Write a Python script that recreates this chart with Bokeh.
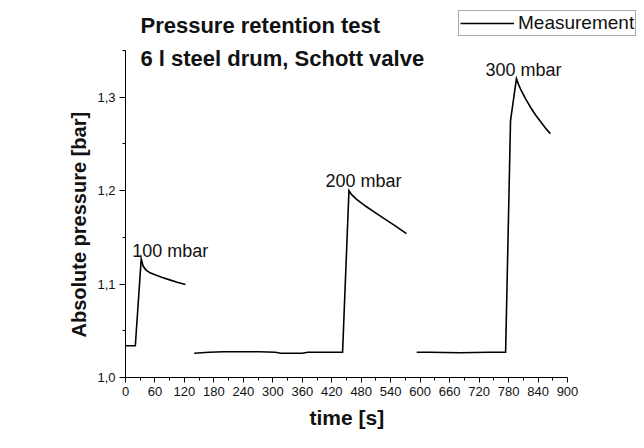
from bokeh.plotting import figure
from bokeh.models import (Range1d, FixedTicker, CustomJSTickFormatter, Label,
                          Legend, LegendItem, ColumnDataSource, Title)
from bokeh.embed import file_html
from bokeh.resources import INLINE
from bokeh.core.properties import value

# ---------------- data ----------------
title_lines = ["Pressure retention test", "6 l steel drum, Schott valve"]
x_label = "time [s]"
y_label = "Absolute pressure [bar]"
series_name = "Measurement"

x_ticks = list(range(0, 901, 60))
x_minor = list(range(30, 900, 60))
y_ticks = [1.0, 1.1, 1.2, 1.3]
y_minor = [1.05, 1.15, 1.25, 1.35]

# test 1: 100 mbar
t1 = [0, 20, 32, 36, 42, 50, 60, 75, 90, 105, 122]
p1 = [1.034, 1.034, 1.127, 1.119, 1.115, 1.112, 1.110, 1.107, 1.1045, 1.102, 1.0995]

# test 2: 200 mbar
t2 = [140, 170, 200, 240, 272, 305, 316, 360, 371, 400, 442,
      455, 460, 470, 490, 510, 530, 550, 572]
p2 = [1.026, 1.027, 1.0275, 1.0275, 1.0275, 1.027, 1.026, 1.026, 1.027, 1.027, 1.027,
      1.200, 1.196, 1.191, 1.183, 1.176, 1.169, 1.162, 1.154]

# test 3: 300 mbar
t3 = [593, 620, 680, 740, 774, 784, 796, 800, 805, 815, 825, 835, 845, 855, 865]
p3 = [1.027, 1.027, 1.0265, 1.027, 1.027, 1.275, 1.320, 1.314, 1.308,
      1.298, 1.289, 1.281, 1.274, 1.267, 1.261]

ann_text = ["100 mbar", "200 mbar", "300 mbar"]
ann_t = [13.6, 407, 733]
ann_p = [1.135, 1.210, 1.3287]

title_t = [30.5, 30.5]
title_p = [1.3770, 1.3413]

FONT = "Liberation Sans"

# ---------------- figure ----------------
W, H = 636, 440
B_LEFT, B_RIGHT, B_TOP, B_BOTTOM = 125, 0, 4, 63
X_LO, X_HI, X_PX = 0, 900, 442      # drawn x-axis and its pixel length
Y_LO, Y_HI, Y_PX = 1.0, 1.35, 327   # drawn y-axis and its pixel length
frame_w = W - B_LEFT - B_RIGHT
frame_h = H - B_TOP - B_BOTTOM
x_end = X_LO + frame_w * (X_HI - X_LO) / X_PX
y_end = Y_LO + frame_h * (Y_HI - Y_LO) / Y_PX

p = figure(width=W, height=H, output_backend="svg", toolbar_location=None,
           x_range=Range1d(X_LO, x_end), y_range=Range1d(Y_LO, y_end),
           min_border_left=B_LEFT, min_border_right=B_RIGHT,
           min_border_top=B_TOP, min_border_bottom=B_BOTTOM)
p.grid.visible = False
p.outline_line_color = None
p.background_fill_color = "white"
p.border_fill_color = "white"

r = p.multi_line(xs=[t1, t2, t3], ys=[p1, p2, p3], line_color="black",
                 line_width=1.6, line_join="miter")

src = ColumnDataSource(dict(x=ann_t, y=ann_p, text=ann_text))
p.text(x="x", y="y", text="text", source=src, text_font=value(FONT),
       text_font_size="18px", text_color="#111111", text_baseline="alphabetic",
       text_align="left")

for tx, ty, tt in zip(title_t, title_p, title_lines):
    p.add_layout(Label(x=tx, y=ty, text=tt, text_font=FONT, text_font_style="bold",
                       text_font_size="22px", text_color="#111111",
                       text_baseline="alphabetic", text_align="left"))

# axes
for ax in (p.xaxis[0], p.yaxis[0]):
    ax.axis_line_color = "black"
    ax.axis_line_width = 1
    ax.major_tick_line_color = "black"
    ax.minor_tick_line_color = "black"
    ax.major_tick_in = 0
    ax.major_tick_out = 5
    ax.minor_tick_in = 0
    ax.minor_tick_out = 3
    ax.major_label_text_font = FONT
    ax.major_label_text_font_size = "13px"
    ax.major_label_text_color = "#111111"
    ax.major_label_standoff = 4

p.xaxis.ticker = FixedTicker(ticks=x_ticks, minor_ticks=x_minor)
p.yaxis.ticker = FixedTicker(ticks=y_ticks, minor_ticks=y_minor)
p.xaxis.bounds = (X_LO, X_HI)
p.yaxis.bounds = (Y_LO, Y_HI)
p.yaxis.formatter = CustomJSTickFormatter(code="return tick.toFixed(1).replace('.', ',');")
p.yaxis.major_tick_out = 6

# axis titles, positioned along the drawn axis extent
p.add_layout(Title(text=x_label, align="left", offset=184, standoff=11,
                   text_font=FONT, text_font_style="bold", text_font_size="21px",
                   text_color="#111111"), "below")
p.add_layout(Title(text=y_label, align="left", offset=40, standoff=10,
                   text_font=FONT, text_font_style="bold", text_font_size="20px",
                   text_color="#111111"), "left")

legend = Legend(items=[LegendItem(label=series_name, renderers=[r])],
                location=(333, 341), padding=1, margin=0, spacing=0,
                glyph_width=54, glyph_height=20, label_height=20, label_standoff=4,
                label_text_font=FONT, label_text_font_size="19px",
                label_text_color="#111111",
                border_line_color="#555555", border_line_width=1,
                background_fill_color="white", background_fill_alpha=1)
p.add_layout(legend)

open("out.html", "w").write(file_html(p, INLINE))
